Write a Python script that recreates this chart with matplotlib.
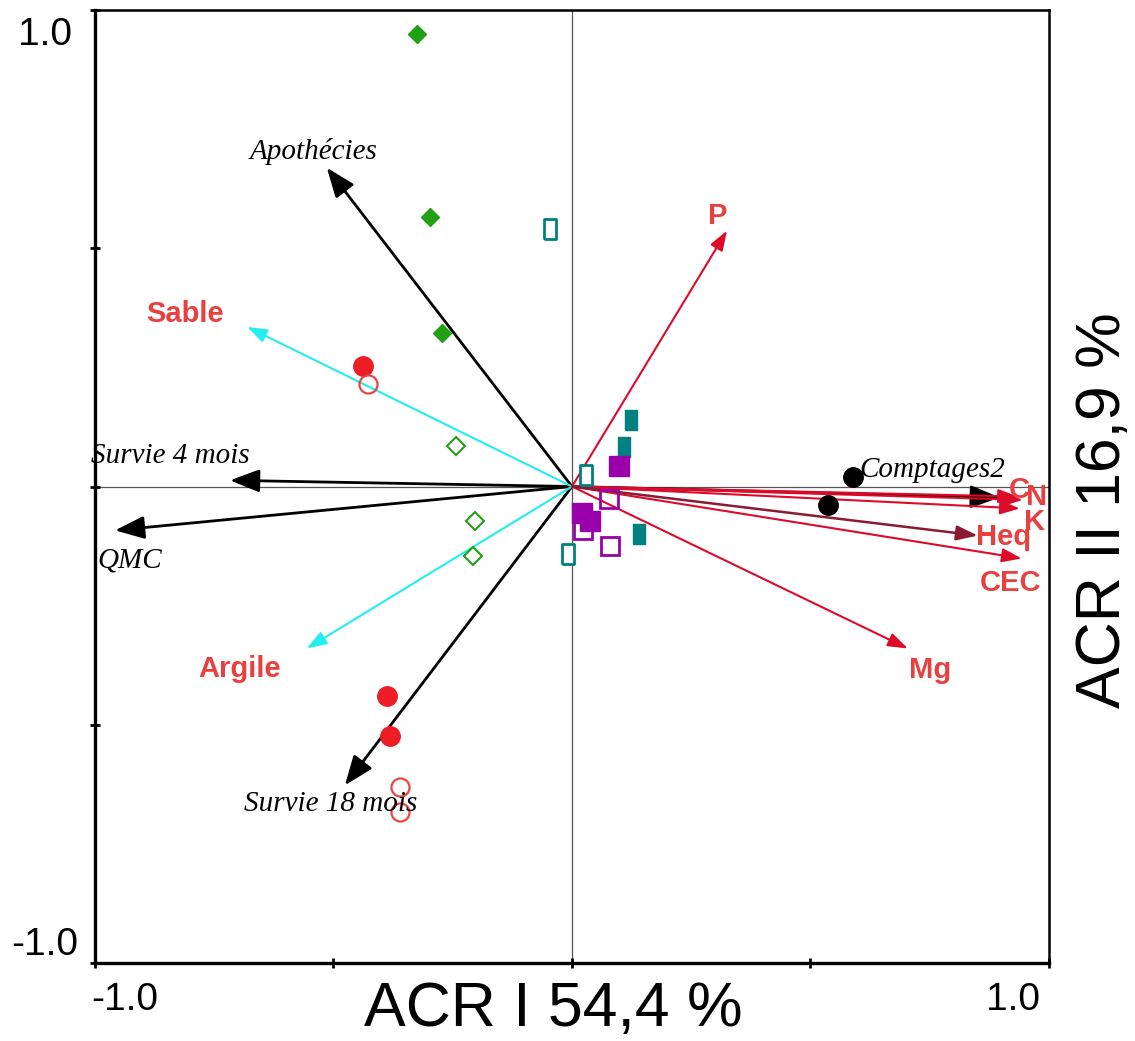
import numpy as np
import matplotlib
matplotlib.use("Agg")
import matplotlib.pyplot as plt

# arrows: (name, x, y)
black_names = ["Apothécies", "Survie 4 mois", "QMC", "Survie 18 mois", "Comptages2"]
black_x = [-0.514, -0.717, -0.958, -0.476, 0.897]
black_y = [0.669, 0.013, -0.092, -0.627, -0.023]

cyan_names = ["Sable", "Argile"]
cyan_x = [-0.681, -0.556]
cyan_y = [0.335, -0.340]

red_names = ["P", "Mg", "C", "N", "K", "CEC"]
red_x = [0.325, 0.704, 0.935, 0.945, 0.939, 0.943]
red_y = [0.537, -0.340, -0.021, -0.028, -0.046, -0.151]

heq_x, heq_y = 0.851, -0.103

# sample points
green_fill_x = [-0.325, -0.298, -0.273]
green_fill_y = [0.950, 0.566, 0.323]
green_open_x = [-0.243, -0.203, -0.208]
green_open_y = [0.086, -0.073, -0.145]
red_fill_x = [-0.438, -0.388, -0.382]
red_fill_y = [0.252, -0.440, -0.524]
red_open_x = [-0.428, -0.361, -0.361]
red_open_y = [0.216, -0.631, -0.683]
black_pt_x = [0.589, 0.537]
black_pt_y = [0.021, -0.038]
teal_fill_x = [0.124, 0.109, 0.140]
teal_fill_y = [0.140, 0.082, -0.099]
teal_open_x = [-0.046, 0.029, -0.009]
teal_open_y = [0.541, 0.025, -0.142]
purple_fill_x = [0.099, 0.021, 0.038]
purple_fill_y = [0.042, -0.055, -0.073]
purple_open_x = [0.078, 0.023, 0.080]
purple_open_y = [-0.027, -0.092, -0.124]

RED = "#dd0a2a"
LABEL_RED = "#e8403f"
CYAN = "#22eeee"
TEAL = "#008080"
PURPLE = "#9900aa"
GREEN = "#22a015"
PT_RED = "#ee1c25"

fig = plt.figure(figsize=(11.35, 10.41), dpi=100)
ax = fig.add_axes([0.0837, 0.0749, 0.8405, 0.9155])
ax.set_xlim(-1, 1)
ax.set_ylim(-1, 1)

ax.axhline(0, color="#555555", lw=0.9, zorder=1)
ax.axvline(0, color="#555555", lw=0.9, zorder=1)


def arrow(x, y, color, lw, hl, hw):
    ax.annotate("", xy=(x, y), xytext=(0, 0),
                arrowprops=dict(arrowstyle=f"-|>,head_length={hl},head_width={hw}",
                                color=color, lw=lw, shrinkA=0, shrinkB=0),
                zorder=3)


for x, y in zip(black_x, black_y):
    arrow(x, y, "black", 2.0, 1.8, 0.7)
for x, y in zip(cyan_x, cyan_y):
    arrow(x, y, CYAN, 1.5, 1.2, 0.42)
for x, y in zip(red_x, red_y):
    arrow(x, y, RED, 1.5, 1.2, 0.42)
arrow(heq_x, heq_y, "#8b1a33", 1.8, 1.3, 0.45)

# points
rect = [(-0.3, -0.5), (0.3, -0.5), (0.3, 0.5), (-0.3, 0.5), (-0.3, -0.5)]
ax.plot(green_fill_x, green_fill_y, "D", ms=9, color=GREEN, mec=GREEN, ls="none", zorder=4)
ax.plot(green_open_x, green_open_y, "D", ms=9, mfc="white", mec=GREEN, mew=1.5, ls="none", zorder=4)
ax.plot(red_fill_x, red_fill_y, "o", ms=14, color=PT_RED, ls="none", zorder=4)
ax.plot(red_open_x, red_open_y, "o", ms=13, mfc="none", mec="#e84545", mew=1.6, ls="none", zorder=4)
ax.plot(black_pt_x, black_pt_y, "o", ms=14, color="black", ls="none", zorder=4)
ax.plot(teal_fill_x, teal_fill_y, marker=rect, ms=14.4, color=TEAL, ls="none", zorder=4)
ax.plot(teal_open_x, teal_open_y, marker=rect, ms=14.4, mfc="white", mec=TEAL, mew=2, ls="none", zorder=4)
ax.plot(purple_fill_x, purple_fill_y, "s", ms=14, color=PURPLE, ls="none", zorder=4)
ax.plot(purple_open_x, purple_open_y, "s", ms=13, mfc="none", mec=PURPLE, mew=2, ls="none", zorder=4)

# arrow labels
serif = dict(family="Liberation Serif", style="italic", color="black", zorder=5, fontsize=21)
ax.text(-0.541, 0.702, "Apothécies", ha="center", va="center", **serif)
ax.text(-0.841, 0.063, "Survie 4 mois", ha="center", va="center", **serif)
ax.text(-0.927, -0.155, "QMC", ha="center", va="center", **serif)
ax.text(-0.505, -0.667, "Survie 18 mois", ha="center", va="center", **serif)
ax.text(0.755, 0.034, "Comptages2", ha="center", va="center", **serif)

bold = dict(family="Liberation Sans", weight="bold", color=LABEL_RED, fontsize=21, zorder=5)
ax.text(-0.811, 0.363, "Sable", ha="center", va="center", **bold)
ax.text(-0.696, -0.382, "Argile", ha="center", va="center", **bold)
ax.text(0.306, 0.568, "P", ha="center", va="center", **bold)
ax.text(0.751, -0.386, "Mg", ha="center", va="center", **bold)
ax.text(0.937, -0.008, "C", ha="center", va="center", **bold)
ax.text(0.975, -0.021, "N", ha="center", va="center", **bold)
ax.text(0.969, -0.075, "K", ha="center", va="center", **bold)
ax.text(0.904, -0.107, "Heq", ha="center", va="center", **bold)
ax.text(0.920, -0.203, "CEC", ha="center", va="center", **bold)

# frame and ticks
for s in ["left", "bottom"]:
    ax.spines[s].set_linewidth(2.4)
for s in ["top", "right"]:
    ax.spines[s].set_linewidth(1.8)
ax.set_xticks([-1, -0.5, 0, 0.5, 1])
ax.set_yticks([-1, -0.5, 0, 0.5, 1])
ax.tick_params(direction="inout", length=7, width=2, labelbottom=False, labelleft=False)

tick_font = dict(family="Liberation Sans", fontsize=28)
fig.text(125 / 1135, 1 - 1000 / 1041, "-1.0", ha="center", va="center", **tick_font)
fig.text(1013 / 1135, 1 - 1000 / 1041, "1.0", ha="center", va="center", **tick_font)
fig.text(45 / 1135, 1 - 35 / 1041, "1.0", ha="center", va="center", **tick_font)
fig.text(45 / 1135, 1 - 945 / 1041, "-1.0", ha="center", va="center", **tick_font)

fig.text(553 / 1135, 1 - 1010 / 1041, "ACR I 54,4 %", ha="center", va="center",
         family="Liberation Sans", fontsize=45)
fig.text(1103 / 1135, 1 - 510 / 1041, "ACR II 16,9 %", ha="center", va="center",
         rotation=90, family="Liberation Sans", fontsize=45)

fig.savefig("out.png", dpi=100)
